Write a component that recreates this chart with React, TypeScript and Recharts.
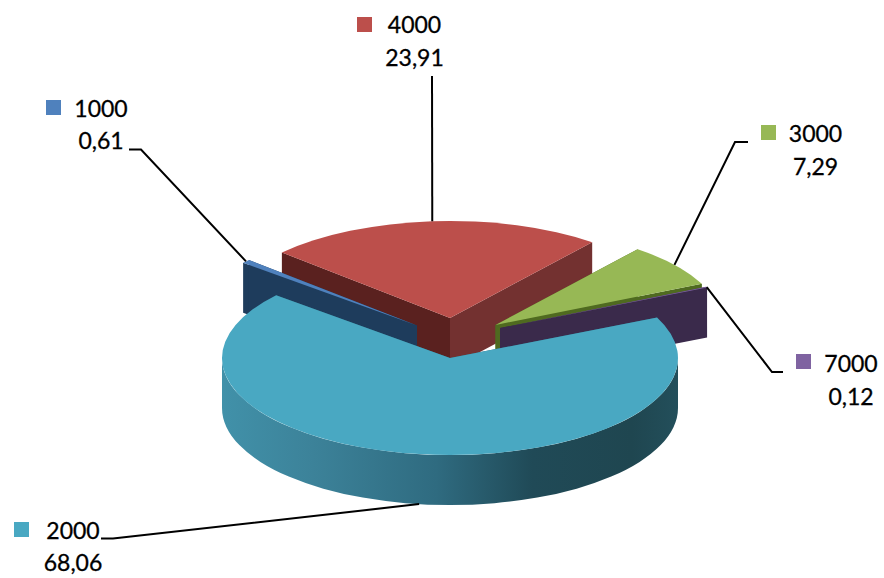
import React from "react";
import { PieChart, Pie } from "recharts";

const names = ["4000", "3000", "7000", "2000", "1000"];
const shares = [23.91, 7.29, 0.12, 68.06, 0.61];
const topColours = ["#BC4F4B", "#97B855", "#7F63A1", "#49A8C2", "#4F81BD"];
const chartData = names.map((name, i) => ({ name, value: shares[i] }));

// Slice-to-slice layout of the tilted pie (style and geometry, not data).
const TILT = 97 / 228;
const DEPTH = 50;
const WIDTH = 884;
const HEIGHT = 578;
const CX = 450;
const CY = 358;
const RADIUS = 228;
const FRONT_SLICE = "2000";

const explode: Record<string, [number, number]> = {
  "4000": [0, -40],
  "3000": [45.5, -33],
  "7000": [50, -30],
  "2000": [0, 0],
  "1000": [-33, -32.5],
};
const wallColours: Record<string, [string, string]> = {
  "4000": ["#5A211F", "#733130"],
  "3000": ["#4F6A20", "#4F6A20"],
  "7000": ["#3A2A4B", "#3A2A4B"],
  "2000": ["#2C6476", "#2C6476"],
  "1000": ["#1E3C5C", "#1E3C5C"],
};
const labelLayout: Record<
  string,
  { sq: [number, number]; tx: number; y1: number; y2: number; path: [number, number][] }
> = {
  "4000": { sq: [357, 17], tx: 414.5, y1: 33, y2: 66, path: [[432, 76]] },
  "1000": { sq: [46, 100], tx: 101, y1: 117, y2: 149, path: [[141, 149.5], [129, 149.5]] },
  "3000": { sq: [761, 125], tx: 815.5, y1: 142, y2: 175, path: [[735, 142], [748, 142]] },
  "7000": { sq: [796, 354], tx: 851, y1: 372, y2: 405, path: [[772, 372], [783, 372]] },
  "2000": { sq: [14, 522], tx: 73, y1: 539, y2: 571, path: [[113, 538.5], [101, 538.5]] },
};

const rad = (a: number) => (a * Math.PI) / 180;

function ellipsePoint(cx: number, cy: number, r: number, a: number): [number, number] {
  return [cx + r * Math.cos(rad(a)), cy - r * TILT * Math.sin(rad(a))];
}

function Slice(props: any) {
  const { cx, cy, outerRadius: r, startAngle, endAngle, name, fill } = props;
  const [ox, oy] = explode[name];
  const x = cx + ox;
  const y = cy + oy;
  const hi = Math.max(startAngle, endAngle);
  const lo = Math.min(startAngle, endAngle);
  const ry = r * TILT;
  const pHi = ellipsePoint(x, y, r, hi);
  const pLo = ellipsePoint(x, y, r, lo);
  const large = hi - lo > 180 ? 1 : 0;
  const top = `M${x},${y} L${pHi[0]},${pHi[1]} A${r},${ry} 0 ${large} 1 ${pLo[0]},${pLo[1]} Z`;
  const wall = (p: [number, number]) =>
    `M${x},${y} L${p[0]},${p[1]} L${p[0]},${p[1] + DEPTH} L${x},${y + DEPTH} Z`;

  const arcHi = Math.min(hi, 0);
  const arcLo = Math.max(lo, -180);
  let rim: React.ReactNode = null;
  if (arcHi > arcLo) {
    const a = ellipsePoint(x, y, r, arcHi);
    const b = ellipsePoint(x, y, r, arcLo);
    const d = `M${a[0]},${a[1]} A${r},${ry} 0 0 1 ${b[0]},${b[1]} L${b[0]},${b[1] + DEPTH} A${r},${ry} 0 0 0 ${a[0]},${a[1] + DEPTH} Z`;
    rim = <path d={d} fill="url(#rimGradient)" />;
  }
  const [wallHi, wallLo] = wallColours[name];
  return (
    <g>
      <defs>
        <linearGradient id="rimGradient" gradientUnits="userSpaceOnUse" x1={x - r} y1={0} x2={x + r} y2={0}>
          <stop offset="0" stopColor="#4191A9" />
          <stop offset="0.2" stopColor="#3C8299" />
          <stop offset="0.47" stopColor="#2F6B80" />
          <stop offset="0.68" stopColor="#204A57" />
          <stop offset="0.9" stopColor="#1F4650" />
          <stop offset="1" stopColor="#234F5B" />
        </linearGradient>
      </defs>
      <path d={wall(pHi)} fill={wallHi} />
      <path d={wall(pLo)} fill={wallLo} />
      {rim}
      <path d={top} fill={fill} />
    </g>
  );
}

const backSlices = (props: any) => (props.name === FRONT_SLICE ? <g /> : <Slice {...props} />);
const frontSlice = (props: any) => (props.name === FRONT_SLICE ? <Slice {...props} /> : <g />);

function SliceLabel(props: any) {
  const { cx, cy, outerRadius: r, midAngle, name, value, index } = props;
  const layout = labelLayout[name];
  const [ox, oy] = explode[name];
  const start = ellipsePoint(cx + ox, cy + oy, r, midAngle);
  const onFront = Math.sin(rad(midAngle)) < 0;
  const line = [[start[0], start[1] + (onFront ? DEPTH : 0)], ...layout.path]
    .map((p) => p.join(","))
    .join(" ");
  const textStyle = {
    fontFamily: "Lato, Carlito, sans-serif",
    fontSize: 23,
    fill: "#000000",
    stroke: "#000000",
    strokeWidth: 0.3,
  };
  return (
    <g key={index}>
      <polyline points={line} fill="none" stroke="#000000" strokeWidth={2} />
      <rect x={layout.sq[0]} y={layout.sq[1]} width={15} height={15} fill={topColours[names.indexOf(name)]} />
      <text x={layout.tx} y={layout.y1} textAnchor="middle" style={textStyle}>
        {name}
      </text>
      <text x={layout.tx} y={layout.y2} textAnchor="middle" style={textStyle}>
        {String(value).replace(".", ",")}
      </text>
    </g>
  );
}

const dataWithFill = chartData.map((d, i) => ({ ...d, fill: topColours[i] }));

export default function App() {
  return (
    <div style={{ position: "absolute", left: 0, top: 0, width: WIDTH, height: HEIGHT, background: "#fff" }}>
      <PieChart width={WIDTH} height={HEIGHT} margin={{ top: 0, right: 0, bottom: 0, left: 0 }}>
        <Pie
          data={dataWithFill}
          dataKey="value"
          nameKey="name"
          cx={CX}
          cy={CY}
          innerRadius={0}
          outerRadius={RADIUS}
          startAngle={137.5}
          endAngle={-222.5}
          stroke="none"
          isAnimationActive={false}
          shape={backSlices}
          label={false}
          labelLine={false}
        />
        <Pie
          data={dataWithFill}
          dataKey="value"
          nameKey="name"
          cx={CX}
          cy={CY}
          innerRadius={0}
          outerRadius={RADIUS}
          startAngle={137.5}
          endAngle={-222.5}
          stroke="none"
          isAnimationActive={false}
          shape={frontSlice}
          label={(p: any) => <SliceLabel {...p} />}
          labelLine={false}
        />
      </PieChart>
    </div>
  );
}
